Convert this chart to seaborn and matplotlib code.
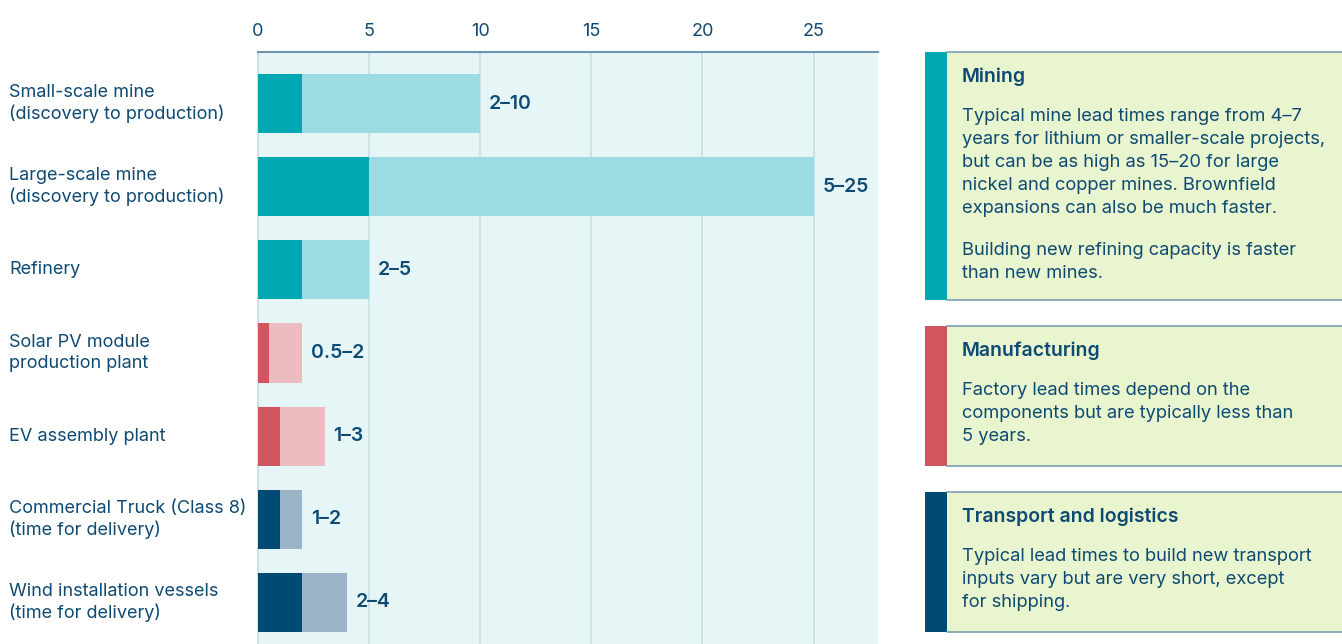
import matplotlib
matplotlib.use("Agg")
import matplotlib.pyplot as plt
import matplotlib.transforms as mtransforms
from matplotlib.patches import Rectangle
import seaborn as sns
import pandas as pd

categories = [
    "Small-scale mine\n(discovery to production)",
    "Large-scale mine\n(discovery to production)",
    "Refinery",
    "Solar PV module\nproduction plant",
    "EV assembly plant",
    "Commercial Truck (Class 8)\n(time for delivery)",
    "Wind installation vessels\n(time for delivery)",
]
min_years = [2, 5, 2, 0.5, 1, 1, 2]
max_years = [10, 25, 5, 2, 3, 2, 4]
range_labels = ["2–10", "5–25", "2–5", "0.5–2", "1–3", "1–2", "2–4"]
groups = ["Mining", "Mining", "Mining", "Manufacturing", "Manufacturing", "Transport", "Transport"]
x_ticks = [0, 5, 10, 15, 20, 25]

dark_colors = {"Mining": "#00a8b4", "Manufacturing": "#d1555c", "Transport": "#004a73"}
light_colors = {"Mining": "#9bdce2", "Manufacturing": "#ecbcc0", "Transport": "#9bb5c8"}

panel_titles = ["Mining", "Manufacturing", "Transport and logistics"]
panel_texts = [
    "Typical mine lead times range from 4–7\nyears for lithium or smaller-scale projects,\n"
    "but can be as high as 15–20 for large\nnickel and copper mines. Brownfield\n"
    "expansions can also be much faster.",
    "Factory lead times depend on the\ncomponents but are typically less than\n5 years.",
    "Typical lead times to build new transport\ninputs vary but are very short, except\nfor shipping.",
]
panel_extra = ["Building new refining capacity is faster\nthan new mines.", None, None]

TEXT = "#0f4a72"
sns.set_theme(style="white")
plt.rcParams["font.family"] = ["Inter", "DejaVu Sans"]

W, H = 1342, 644
fig = plt.figure(figsize=(W / 100, H / 100), dpi=100)
ax = fig.add_axes([258 / W, 0, (878 - 258) / W, (H - 52) / H])
ax.set_facecolor("#e6f6f7")

df = pd.DataFrame({"cat": categories, "min": min_years, "max": max_years, "group": groups})
pal_light = [light_colors[g] for g in groups]
pal_dark = [dark_colors[g] for g in groups]

sns.barplot(data=df, y="cat", x="max", hue="cat", palette=pal_light, orient="h",
            width=0.71, legend=False, ax=ax, saturation=1, zorder=3, linewidth=0)
sns.barplot(data=df, y="cat", x="min", hue="cat", palette=pal_dark, orient="h",
            width=0.71, legend=False, ax=ax, saturation=1, zorder=4, linewidth=0)

ax.set_xlim(0, 27.9)
ax.set_ylim(6.5, -0.62)
ax.set_xticks(x_ticks)
ax.set_xticklabels([str(t) for t in x_ticks])
ax.xaxis.tick_top()
ax.tick_params(axis="x", length=0, pad=9, labelsize=13, labelcolor=TEXT)
ax.set_yticks([])
ax.set_xlabel("")
ax.set_ylabel("")
ax.grid(axis="x", color="#c6dfe6", linewidth=1.2, zorder=0)
ax.set_axisbelow(True)
for s in ["right", "bottom"]:
    ax.spines[s].set_visible(False)
ax.spines["left"].set_color("#c6dfe6")
ax.spines["top"].set_color("#6f94ad")
ax.spines["top"].set_linewidth(1.5)

for i, (mx, lab) in enumerate(zip(max_years, range_labels)):
    ax.text(mx + 0.4, i, lab, va="center", ha="left", fontsize=14,
            fontweight="semibold", color=TEXT, zorder=5)

trans = mtransforms.blended_transform_factory(fig.transFigure, ax.transData)
for i, c in enumerate(categories):
    ax.text(9 / W, i, c, transform=trans, va="center", ha="left", fontsize=13,
            color=TEXT, linespacing=1.27, clip_on=False)

fig.text(9 / W, 1 + 3 / H, "Years (min–max)", color="#00a8b4", fontsize=13,
         va="baseline", ha="left")

# side panels
boxes = [(52, 300), (326, 466), (492, 632)]
strip_cols = [dark_colors["Mining"], dark_colors["Manufacturing"], dark_colors["Transport"]]
for (top, bot), col, title, body, extra in zip(boxes, strip_cols, panel_titles, panel_texts, panel_extra):
    y0 = 1 - bot / H
    h = (bot - top) / H
    fig.patches.append(Rectangle((947 / W, y0), (W - 947) / W, h, transform=fig.transFigure,
                                 facecolor="#e8f5cf", edgecolor="none", zorder=0))
    fig.patches.append(Rectangle((925 / W, y0), 22 / W, h, transform=fig.transFigure,
                                 facecolor=col, edgecolor="none", zorder=1))
    for yy in (top, bot):
        fig.add_artist(plt.Line2D([947 / W, 1], [1 - yy / H, 1 - yy / H], transform=fig.transFigure,
                                  color="#7f9fb3", linewidth=1.2))
    fig.text(962 / W, 1 - (top + 25) / H, title, fontsize=14, fontweight="semibold",
             color=TEXT, va="center", ha="left")
    fig.text(962 / W, 1 - (top + 56) / H, body, fontsize=13.2, color=TEXT,
             va="top", ha="left", linespacing=1.47)
    if extra:
        fig.text(962 / W, 1 - (top + 190) / H, extra, fontsize=13.2, color=TEXT,
                 va="top", ha="left", linespacing=1.47)

fig.savefig("out.png", dpi=100)
